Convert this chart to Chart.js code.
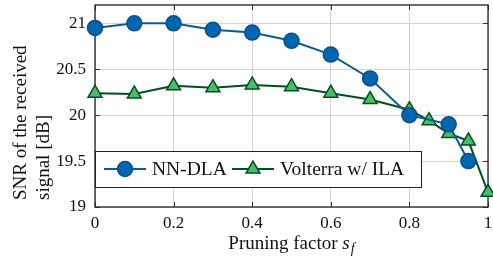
<!DOCTYPE html>
<html>
<head>
<meta charset="utf-8">
<script src="https://cdn.jsdelivr.net/npm/chart.js@4"></script>
<style>
  html, body { margin: 0; padding: 0; background: #fff; }
  #wrap { width: 493px; height: 259px; }
</style>
</head>
<body>
<div id="wrap"><canvas id="snrChart"></canvas></div>
<script>
const dlaX = [0, 0.1, 0.2, 0.3, 0.4, 0.5, 0.6, 0.7, 0.8, 0.9, 0.95];
const dlaSnr = [20.95, 21.0, 21.0, 20.93, 20.9, 20.81, 20.66, 20.4, 20.0, 19.9, 19.5];
const volX = [0, 0.1, 0.2, 0.3, 0.4, 0.5, 0.6, 0.7, 0.8, 0.85, 0.9, 0.95, 1.0];
const volSnr = [20.24, 20.23, 20.32, 20.3, 20.33, 20.31, 20.24, 20.17, 20.06, 19.94, 19.8, 19.72, 19.16];
const xTicks = [0, 0.2, 0.4, 0.6, 0.8, 1];
const yTicks = [19, 19.5, 20, 20.5, 21];

const serif = '"Liberation Serif", "DejaVu Serif", serif';
const blueLine = '#0b5a96', blueFill = '#0066b2', blueEdge = '#0a4f86';
const greenLine = '#00501f', greenFill = '#4cbb6a', greenEdge = '#00501f';

// frame + inward ticks on all four sides (pgfplots look)
const framePlugin = {
  id: 'frame',
  beforeDatasetsDraw(chart) {
    const { ctx, chartArea: a, scales: { x, y } } = chart;
    ctx.save();
    ctx.strokeStyle = '#333';
    ctx.lineWidth = 1;
    ctx.beginPath();
    xTicks.forEach(v => {
      const px = Math.round(x.getPixelForValue(v)) + 0.5;
      ctx.moveTo(px, a.bottom); ctx.lineTo(px, a.bottom - 5);
      ctx.moveTo(px, a.top); ctx.lineTo(px, a.top + 5);
    });
    yTicks.forEach(v => {
      const py = Math.round(y.getPixelForValue(v)) + 0.5;
      ctx.moveTo(a.left, py); ctx.lineTo(a.left + 5, py);
      ctx.moveTo(a.right, py); ctx.lineTo(a.right - 5, py);
    });
    ctx.stroke();
    ctx.strokeStyle = '#222';
    ctx.lineWidth = 1.3;
    ctx.strokeRect(a.left, a.top, a.right - a.left, a.bottom - a.top);
    ctx.restore();
  },
  afterDraw(chart) {
    const { ctx, chartArea: a } = chart;
    ctx.save();
    // y axis title, two lines starting from the bottom
    ctx.fillStyle = '#111';
    ctx.font = '19px ' + serif;
    ctx.textAlign = 'left';
    ctx.textBaseline = 'middle';
    ctx.translate(21, 200);
    ctx.rotate(-Math.PI / 2);
    ctx.fillText('SNR of the received', 0, 0);
    ctx.fillText('signal [dB]', 0, 23);
    ctx.restore();

    // x axis title with italic s_f
    ctx.save();
    ctx.fillStyle = '#111';
    ctx.textBaseline = 'alphabetic';
    ctx.textAlign = 'left';
    const main = 'Pruning factor ';
    ctx.font = '19px ' + serif;
    const w1 = ctx.measureText(main).width;
    ctx.font = 'italic 19px ' + serif;
    const w2 = ctx.measureText('s').width;
    ctx.font = 'italic 14px ' + serif;
    const w3 = ctx.measureText('f').width;
    let px = (a.left + a.right) / 2 - (w1 + w2 + w3 + 1) / 2;
    const base = 249;
    ctx.font = '19px ' + serif;
    ctx.fillText(main, px, base);
    px += w1;
    ctx.font = 'italic 19px ' + serif;
    ctx.fillText('s', px, base);
    px += w2 + 1;
    ctx.font = 'italic 14px ' + serif;
    ctx.fillText('f', px, base + 4);
    ctx.restore();

    // legend box inside the plot
    ctx.save();
    const bx = a.left, by = 151, bw = 326, bh = 36;
    ctx.fillStyle = '#fff';
    ctx.fillRect(bx, by, bw, bh);
    ctx.strokeStyle = '#222';
    ctx.lineWidth = 1;
    ctx.strokeRect(bx + 0.5, by + 0.5, bw, bh);
    const ly = by + bh / 2;
    const entries = [
      { x0: bx + 9, text: 'NN-DLA', line: blueLine, fill: blueFill, edge: blueEdge, style: 'circle' },
      { x0: bx + 137, text: 'Volterra w/ ILA', line: greenLine, fill: greenFill, edge: greenEdge, style: 'triangle' }
    ];
    entries.forEach(e => {
      ctx.strokeStyle = e.line;
      ctx.lineWidth = 2;
      ctx.beginPath();
      ctx.moveTo(e.x0, ly); ctx.lineTo(e.x0 + 42, ly);
      ctx.stroke();
      ctx.fillStyle = e.fill;
      ctx.strokeStyle = e.edge;
      ctx.lineWidth = 1.5;
      Chart.helpers.drawPoint(ctx, { pointStyle: e.style, radius: e.style === 'circle' ? 7.5 : 8, rotation: 0, borderWidth: 1.5 }, e.x0 + 21, ly);
      ctx.fillStyle = '#111';
      ctx.font = '19.5px ' + serif;
      ctx.textBaseline = 'middle';
      ctx.textAlign = 'left';
      ctx.fillText(e.text, e.x0 + 48, ly + 1);
    });
    ctx.restore();
  }
};

new Chart(document.getElementById('snrChart'), {
  type: 'scatter',
  data: {
    datasets: [
      {
        label: 'NN-DLA',
        data: dlaX.map((v, i) => ({ x: v, y: dlaSnr[i] })),
        showLine: true,
        borderColor: blueLine,
        borderWidth: 2,
        pointStyle: 'circle',
        pointRadius: 7.5,
        pointBackgroundColor: blueFill,
        pointBorderColor: blueEdge,
        pointBorderWidth: 1.5,
        clip: false
      },
      {
        label: 'Volterra w/ ILA',
        data: volX.map((v, i) => ({ x: v, y: volSnr[i] })),
        showLine: true,
        borderColor: greenLine,
        borderWidth: 2,
        pointStyle: 'triangle',
        pointRadius: 8,
        pointBackgroundColor: greenFill,
        pointBorderColor: greenEdge,
        pointBorderWidth: 1.5,
        clip: false
      }
    ]
  },
  options: {
    responsive: true,
    maintainAspectRatio: false,
    animation: false,
    layout: { autoPadding: false, padding: { top: 5, right: 5, left: 0, bottom: 0 } },
    plugins: { legend: { display: false }, tooltip: { enabled: false } },
    scales: {
      x: {
        type: 'linear',
        min: 0,
        max: 1,
        afterBuildTicks: s => { s.ticks = xTicks.map(v => ({ value: v })); },
        afterFit: s => { s.height = 52; s.paddingLeft = 0; s.paddingRight = 0; },
        border: { display: false },
        grid: { color: '#d4d4d4', lineWidth: 1, drawTicks: false },
        ticks: {
          padding: 6,
          color: '#111',
          font: { family: serif, size: 17 },
          maxRotation: 0,
          callback: v => String(v)
        }
      },
      y: {
        type: 'linear',
        min: 19,
        max: 21.2,
        afterBuildTicks: s => { s.ticks = yTicks.map(v => ({ value: v })); },
        afterFit: s => { s.width = 95; s.paddingTop = 0; s.paddingBottom = 0; },
        border: { display: false },
        grid: { color: '#d4d4d4', lineWidth: 1, drawTicks: false },
        ticks: {
          padding: 9,
          color: '#111',
          font: { family: serif, size: 17 },
          callback: v => String(v)
        }
      }
    }
  },
  plugins: [framePlugin]
});
</script>
</body>
</html>
